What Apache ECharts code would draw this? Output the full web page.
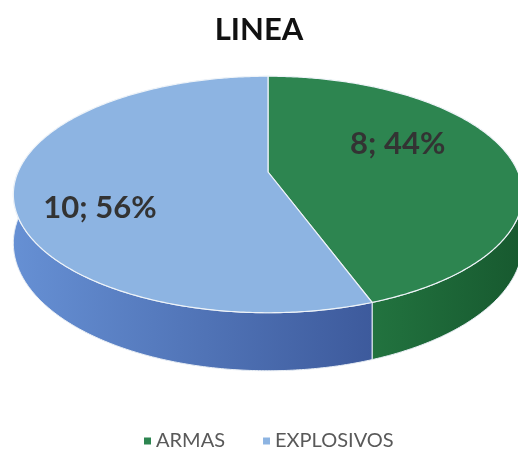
<!DOCTYPE html>
<html>
<head>
<meta charset="utf-8">
<title>LINEA</title>
<script src="https://cdn.jsdelivr.net/npm/echarts@6/dist/echarts.min.js"></script>
<style>
    html, body { margin: 0; padding: 0; background: #fff; }
    #chart { width: 518px; height: 466px; }
</style>
</head>
<body>
<div id="chart"></div>
<script>
    // datos
    const categories = ['ARMAS', 'EXPLOSIVOS'];
    const values = [8, 10];

    const topColors = ['#2d8550', '#8db4e2'];
    const sideColors = [
        ['#22733f', '#17592f'],
        ['#6690d4', '#3d5a9c'],
    ];
    const labelRadius = [0.6, 0.7];

    // pastel 3D con perspectiva (como Excel)
    const pie = { cx: 268, cy: 172, rx: 250, ry: 114, depth: 47, persp: 0.19 };
    const total = values.reduce((a, b) => a + b, 0);

    const project = (theta, r, down) => {
        const u = r * Math.sin(theta);
        const v = -r * Math.cos(theta);
        const s = 1 / (1 - pie.persp * v);
        return [pie.cx + pie.rx * u * s, pie.cy + (pie.ry * v + (down ? pie.depth : 0)) * s];
    };
    const arc = (a0, a1, down) => {
        const pts = [];
        const n = Math.max(2, Math.ceil((a1 - a0) / 0.01));
        for (let i = 0; i <= n; i++) pts.push(project(a0 + ((a1 - a0) * i) / n, 1, down));
        return pts;
    };

    const sliceAngles = (idx) => {
        let before = 0;
        for (let i = 0; i < idx; i++) before += values[i];
        const a0 = (before / total) * Math.PI * 2;
        const a1 = ((before + values[idx]) / total) * Math.PI * 2;
        return [a0, a1];
    };

    const makeRender = (idx) => (params, api) => {
        const [a0, a1] = sliceAngles(idx);
        const children = [];

        // pared visible (frente)
        const w0 = Math.max(a0, Math.PI / 2);
        const w1 = Math.min(a1, (Math.PI * 3) / 2);
        if (w1 > w0) {
            const topArc = arc(w0, w1, false);
            const botArc = arc(w0, w1, true).reverse();
            children.push({
                type: 'polygon',
                z2: 1,
                shape: { points: topArc.concat(botArc) },
                style: {
                    fill: new echarts.graphic.LinearGradient(0, 0, 1, 0, [
                        { offset: 0, color: sideColors[idx][0] },
                        { offset: 1, color: sideColors[idx][1] },
                    ]),
                    stroke: '#e8eef5',
                    lineWidth: 1,
                },
            });
        }

        // cara superior
        children.push({
            type: 'polygon',
            z2: 5,
            shape: { points: [[pie.cx, pie.cy]].concat(arc(a0, a1, false)) },
            style: { fill: topColors[idx], stroke: '#eef3f8', lineWidth: 1.2 },
        });

        // etiqueta
        const mid = (a0 + a1) / 2 - (15 * Math.PI) / 180;
        const pos = project(mid, labelRadius[idx], false);
        const pct = Math.round((api.value(0) / total) * 100);
        children.push({
            type: 'text',
            z2: 10,
            x: pos[0],
            y: pos[1],
            style: {
                text: api.value(0) + '; ' + pct + '%',
                fontFamily: 'Lato',
                fontWeight: 'bold',
                fontSize: 31,
                fill: '#333',
                align: 'center',
                verticalAlign: 'middle',
            },
        });

        return { type: 'group', children };
    };

    const chart = echarts.init(document.getElementById('chart'));
    chart.setOption({
        backgroundColor: '#fff',
        animation: false,
        title: {
            text: 'LINEA',
            left: 254,
            textAlign: 'center',
            top: 8,
            textStyle: { fontFamily: 'Lato', fontWeight: 'bold', fontSize: 31, lineHeight: 34, color: '#111' },
        },
        legend: {
            data: categories,
            left: 139,
            top: 426,
            icon: 'rect',
            itemWidth: 7,
            itemHeight: 7,
            itemGap: 38,
            textStyle: { fontFamily: 'Lato', fontSize: 20, color: '#595959' },
        },
        series: categories.map((name, idx) => ({
            name,
            type: 'custom',
            coordinateSystem: 'none',
            itemStyle: { color: topColors[idx] },
            renderItem: makeRender(idx),
            data: [[values[idx]]],
        })),
    });
</script>
</body>
</html>
